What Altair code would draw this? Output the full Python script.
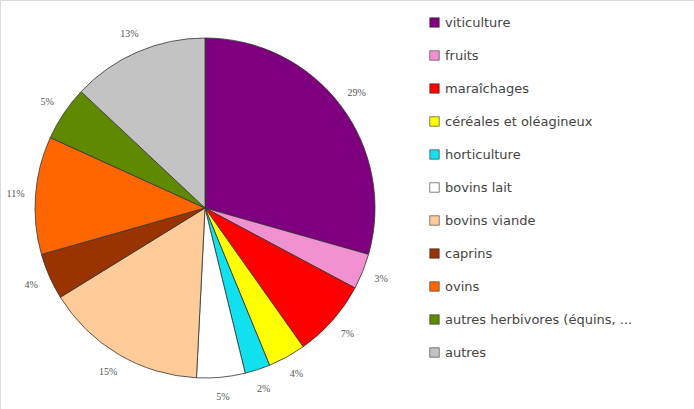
import altair as alt
import pandas as pd

categories = ["viticulture", "fruits", "maraîchages", "céréales et oléagineux",
              "horticulture", "bovins lait", "bovins viande", "caprins", "ovins",
              "autres herbivores (équins, ...", "autres"]
values = [29.4, 3.4, 7.4, 3.6, 2.4, 4.6, 15.4, 4.4, 11.2, 5.2, 13.0]
labels = ["29%", "3%", "7%", "4%", "2%", "5%", "15%", "4%", "11%", "5%", "13%"]
colors = ["#7F007F", "#F291CF", "#FF0000", "#FFFF00", "#11E0EE", "#FFFFFF",
          "#FFCC99", "#993300", "#FF6600", "#5F8A00", "#C3C3C3"]

df = pd.DataFrame({"cat": categories, "val": values, "lab": labels,
                   "idx": list(range(len(categories)))})

cx, cy = 205, 208

base = alt.Chart(df).encode(
    theta=alt.Theta("val:Q", stack=True),
    order=alt.Order("idx:Q"),
    x=alt.value(cx), y=alt.value(cy),
)

pie = base.mark_arc(outerRadius=170, stroke="#333333", strokeWidth=0.8).encode(
    color=alt.Color("cat:N", sort=categories,
                    scale=alt.Scale(domain=categories, range=colors),
                    legend=alt.Legend(
                        title=None, orient="none", legendX=428, legendY=16,
                        symbolType="square", symbolSize=90,
                        symbolStrokeColor="#333333", symbolStrokeWidth=0.6,
                        labelFont="DejaVu Sans", labelFontSize=13,
                        labelColor="#444444", labelLimit=300,
                        rowPadding=19, labelOffset=4)),
)

text = base.mark_text(radius=190, font="Liberation Serif", fontSize=10,
                      color="#555555").encode(text="lab:N")

chart = (pie + text).properties(
    width=694, height=409, padding=0,
    autosize=alt.AutoSizeParams(type="none"),
).configure_view(stroke=None).configure(background="white")

chart.save("out.html", embed_options={"renderer": "svg", "actions": False})
